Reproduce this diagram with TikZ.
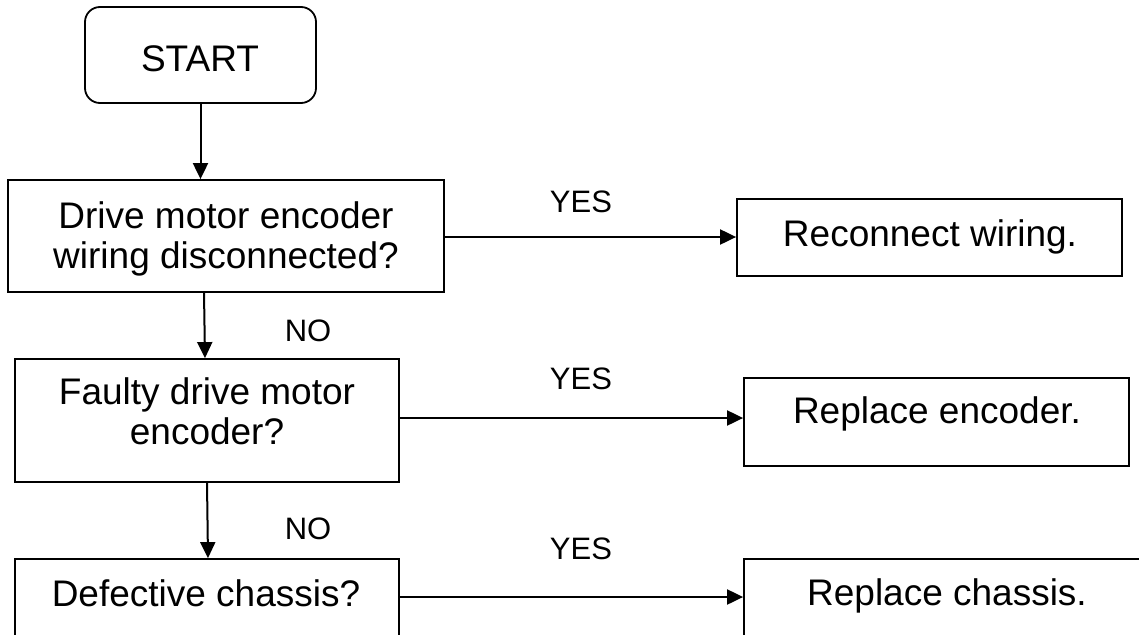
\documentclass[tikz,border=0pt]{standalone}
\usepackage{fontspec}
\setmainfont{Liberation Sans}
\usetikzlibrary{arrows.meta}

\tikzset{
  box/.style={draw, line width=1.8pt, inner sep=0pt},
  txt/.style={font=\fontsize{37}{40}\selectfont, align=center, inner sep=0pt},
  lbl/.style={font=\fontsize{31}{34}\selectfont, inner sep=0pt, anchor=base},
  arr/.style={line width=2pt, -{Triangle[length=16pt,width=15pt]}}
}

\begin{document}
\begin{tikzpicture}[x=1pt, y=-1pt]
  \clip (0,0) rectangle (1139,634);
  \fill[white] (0,0) rectangle (1139,634);
  % boxes
  \node[box, rounded corners=15pt, minimum width=231pt, minimum height=96pt] (start) at (200.5,55) {};
  \node[box, minimum width=436pt, minimum height=112pt] (wiring) at (226,236) {};
  \node[box, minimum width=385pt, minimum height=77pt] (reconnect) at (929.5,237.5) {};
  \node[box, minimum width=384pt, minimum height=123pt] (faulty) at (207,420.5) {};
  \node[box, minimum width=385pt, minimum height=88pt] (replenc) at (936.5,422) {};
  \node[box, minimum width=384pt, minimum height=80pt] (chassis) at (207,599) {};
  \node[box, minimum width=406pt, minimum height=80pt] (replch) at (947,599) {};
  % texts
  \node[txt, anchor=base] (start-t) at (200,71) {START};
  \node[txt] (wiring-t) at (226,238.7) {Drive motor encoder\\wiring disconnected?};
  \node[txt, anchor=base] (reconnect-t) at (930,246) {Reconnect wiring.};
  \node[txt] (faulty-t) at (207,411.5) {Faulty drive motor\\encoder?};
  \node[txt, anchor=base] (replenc-t) at (937,423) {Replace encoder.};
  \node[txt, anchor=base] (chassis-t) at (206,606) {Defective chassis?};
  \node[txt, anchor=base] (replch-t) at (947,605) {Replace chassis.};
  % labels
  \node[lbl] (yes1) at (581,212) {YES};
  \node[lbl] (no1) at (308,341) {NO};
  \node[lbl] (yes2) at (581,389) {YES};
  \node[lbl] (no2) at (308,539) {NO};
  \node[lbl] (yes3) at (581,559) {YES};
  % arrows
  \draw[arr] (start.south) -- (start.south |- wiring.north);
  \draw[arr] ([xshift=-22pt]wiring.south) -- ([xshift=-2pt]faulty.north);
  \draw[arr] (faulty.south) -- ([xshift=1pt]chassis.north);
  \draw[arr] ([yshift=-1pt]wiring.east) -- ([yshift=-1pt]wiring.east -| reconnect.west);
  \draw[arr] ([yshift=2.5pt]faulty.east) -- ([yshift=2.5pt]faulty.east -| replenc.west);
  \draw[arr] ([yshift=2pt]chassis.east) -- ([yshift=2pt]chassis.east -| replch.west);
\end{tikzpicture}
\end{document}
